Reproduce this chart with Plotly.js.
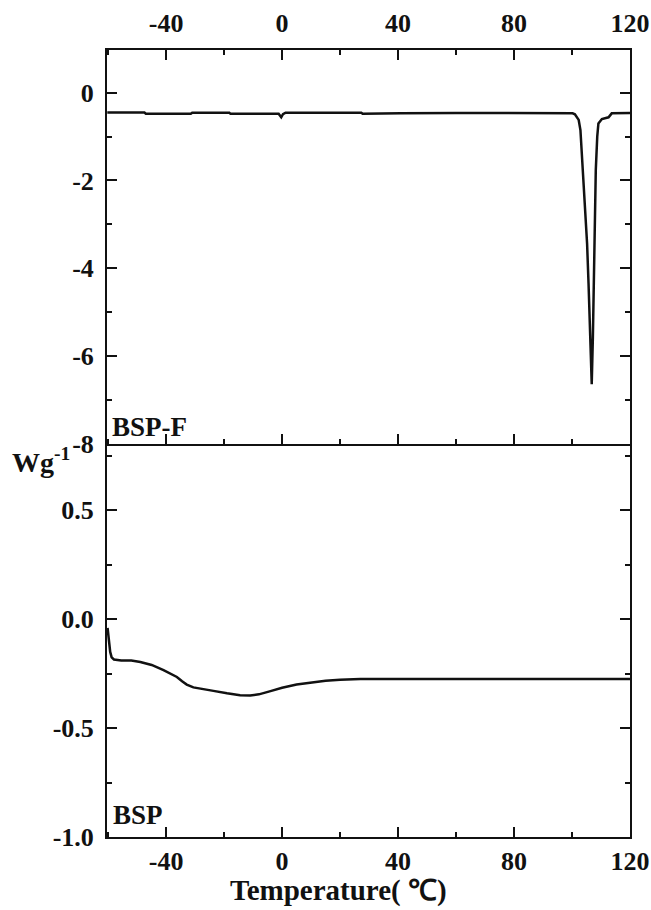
<!DOCTYPE html>
<html>
<head>
<meta charset="utf-8">
<script src="https://cdn.plot.ly/plotly-3.0.1.min.js"></script>
<style>html,body{margin:0;padding:0;background:#fff;}#chart{width:651px;height:910px;}</style>
</head>
<body>
<div id="chart"></div>
<script>
// ---- data ----
const tempBSPF = [-60.3, -47.5, -47, -31.5, -31, -18.2, -17.8, -1.2, -0.3, 0.3, 1.2, 27.3, 27.8, 40.5, 41, 60, 80, 90, 98, 100.2, 101, 102.3, 102.9, 103.4, 104, 104.6, 105.2, 105.7, 106.3, 106.8, 107.2, 107.5, 107.8, 108.2, 108.7, 109.1, 110.3, 112.6, 113.7, 116, 120];
const wgBSPF   = [-0.45, -0.45, -0.48, -0.48, -0.455, -0.455, -0.48, -0.48, -0.56, -0.49, -0.455, -0.455, -0.48, -0.48, -0.47, -0.46, -0.47, -0.46, -0.47, -0.47, -0.49, -0.62, -0.85, -1.38, -1.99, -2.68, -3.44, -4.35, -5.57, -6.65, -5.57, -4.4, -2.9, -1.76, -1.0, -0.7, -0.6, -0.56, -0.47, -0.46, -0.46];

const tempBSP = [-60.2, -59.8, -59.3, -58.8, -58, -55.5, -52, -48.9, -45, -40.9, -38.5, -36.3, -34.5, -32.9, -30.6, -27, -23.7, -19, -14.5, -11, -8, -4, 0, 5, 10, 15, 20, 27, 40, 60, 80, 100, 120];
const wgBSP   = [-0.04, -0.1, -0.15, -0.175, -0.185, -0.19, -0.19, -0.196, -0.21, -0.234, -0.25, -0.265, -0.285, -0.30, -0.313, -0.32, -0.329, -0.34, -0.349, -0.35, -0.345, -0.33, -0.315, -0.3, -0.29, -0.283, -0.278, -0.275, -0.275, -0.275, -0.275, -0.274, -0.274];

const xTickVals = [-40, 0, 40, 80, 120];
const xTickText = ['-40', '0', '40', '80', '120'];
const yTopTickVals = [0, -2, -4, -6, -8];
const yTopTickText = ['0', '-2', '-4', '-6', '-8'];
const yBotTickVals = [0.5, 0.0, -0.5, -1.0];
const yBotTickText = ['0.5', '0.0', '-0.5', '-1.0'];

const labelTop = 'BSP-F';
const labelBottom = 'BSP';
const yLabel = 'Wg<sup>-1</sup>';
const xLabel = 'Temperature( \u2103)';

// ---- styles ----
const FONT = 'Liberation Serif, Times New Roman, serif';
const tickFont = {family: FONT, size: 26, color: '#111', weight: 'bold'};
const axisCommon = {
  showline: true, linecolor: '#111', linewidth: 2,
  ticks: 'inside', ticklen: 10, tickwidth: 2, tickcolor: '#111',
  showgrid: false, zeroline: false, tickfont: tickFont,
  ticklabelstandoff: 6
};

const traces = [
  {x: tempBSPF, y: wgBSPF, xaxis: 'x', yaxis: 'y', mode: 'lines',
   line: {color: '#111', width: 2.5}, hoverinfo: 'skip'},
  {x: tempBSP, y: wgBSP, xaxis: 'x2', yaxis: 'y2', mode: 'lines',
   line: {color: '#111', width: 2.5}, hoverinfo: 'skip'}
];

const layout = {
  width: 651, height: 910,
  margin: {l: 107, r: 21, t: 50, b: 73},
  paper_bgcolor: '#fff', plot_bgcolor: '#fff',
  showlegend: false,
  font: {family: FONT, color: '#111'},
  xaxis: Object.assign({}, axisCommon, {
    anchor: 'y', side: 'top', domain: [0, 1], range: [-60.4, 120],
    tickvals: xTickVals, ticktext: xTickText, mirror: 'ticks',
    minor: {ticks: 'inside', ticklen: 5, tickwidth: 2, tickcolor: '#111', dtick: 20, tick0: 0}
  }),
  yaxis: Object.assign({}, axisCommon, {
    anchor: 'x', domain: [0.5, 1], range: [-8, 0.975],
    tickvals: yTopTickVals, ticktext: yTopTickText, mirror: 'ticks',
    minor: {ticks: 'inside', ticklen: 5, tickwidth: 2, tickcolor: '#111', dtick: 1, tick0: 0}
  }),
  xaxis2: Object.assign({}, axisCommon, {
    anchor: 'y2', side: 'bottom', domain: [0, 1], range: [-60.4, 120],
    tickvals: xTickVals, ticktext: xTickText, mirror: false, ticklabelstandoff: 0,
    minor: {ticks: 'inside', ticklen: 5, tickwidth: 2, tickcolor: '#111', dtick: 20, tick0: 0}
  }),
  yaxis2: Object.assign({}, axisCommon, {
    anchor: 'x2', domain: [0, 0.5], range: [-1.0, 0.807],
    tickvals: yBotTickVals, ticktext: yBotTickText, mirror: 'ticks',
    minor: {ticks: 'inside', ticklen: 5, tickwidth: 2, tickcolor: '#111', dtick: 0.25, tick0: 0}
  }),
  annotations: [
    {text: labelTop, xref: 'x', yref: 'y', x: -59.5, y: -7.62, xanchor: 'left', yanchor: 'middle',
     showarrow: false, font: {family: FONT, size: 27, color: '#111', weight: 'bold'}},
    {text: labelBottom, xref: 'x2', yref: 'y2', x: -59, y: -0.9, xanchor: 'left', yanchor: 'middle',
     showarrow: false, font: {family: FONT, size: 27, color: '#111', weight: 'bold'}},
    {text: yLabel, xref: 'paper', yref: 'paper', x: -0.185, y: 0.478, xanchor: 'left', yanchor: 'middle',
     showarrow: false, font: {family: FONT, size: 28, color: '#111', weight: 'bold'}},
    {text: xLabel, xref: 'paper', yref: 'paper', x: 0.442, y: -0.068, xanchor: 'center', yanchor: 'middle',
     showarrow: false, font: {family: FONT, size: 29, color: '#111', weight: 'bold'}}
  ]
};

Plotly.newPlot('chart', traces, layout, {staticPlot: true, displayModeBar: false});
</script>
</body>
</html>
